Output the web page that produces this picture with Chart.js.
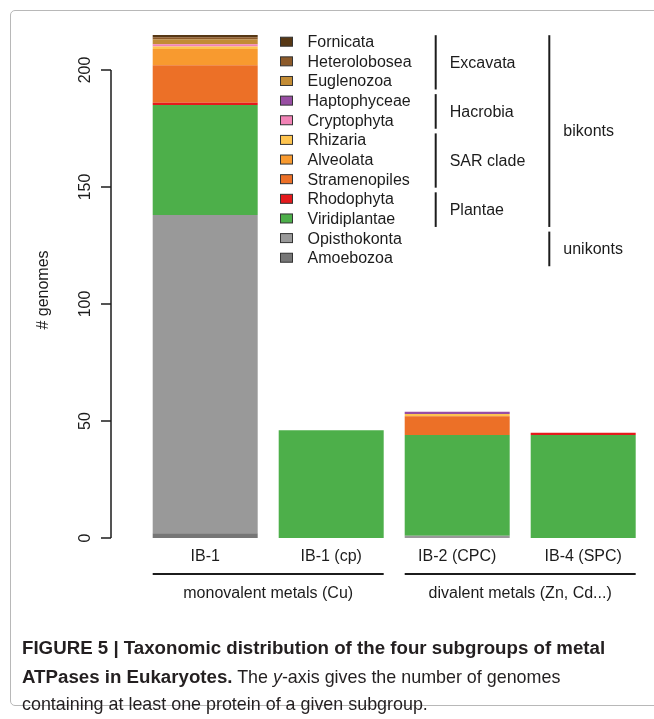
<!DOCTYPE html>
<html>
<head>
<meta charset="utf-8">
<script src="https://cdn.jsdelivr.net/npm/chart.js@4.4.0/dist/chart.umd.min.js"></script>
<style>
  html, body { margin: 0; padding: 0; background: #fff; }
  #wrap { position: relative; width: 654px; height: 719px; overflow: hidden; }
  #frame { position: absolute; left: 10px; top: 10px; width: 670px; height: 694px; border: 1px solid #b8b8b8; border-radius: 5px; }
  #chart { position: absolute; left: 0; top: 0; }
  #caption { position: absolute; left: 22px; top: 634px; font-family: "Liberation Sans", Arial, sans-serif; font-size: 17.9px; line-height: 27.5px; color: #231f20; white-space: nowrap; }
  #caption b { font-size: 18.7px; }
</style>
</head>
<body>
<div id="wrap">
  <div id="frame"></div>
  <canvas id="chart" width="654" height="719"></canvas>
  <div id="caption"><b>FIGURE 5 | Taxonomic distribution of the four subgroups of metal</b><br><b>ATPases in Eukaryotes.</b> The <i>y</i>-axis gives the number of genomes<br>containing at least one protein of a given subgroup.</div>
</div>
<script>
// categories (subgroups) and groups of categories
const categories = ['IB-1', 'IB-1 (cp)', 'IB-2 (CPC)', 'IB-4 (SPC)'];
const metalGroups = ['monovalent metals (Cu)', 'divalent metals (Zn, Cd...)'];
const metalGroupSpans = [[0, 1], [2, 3]];
const yTicks = [0, 50, 100, 150, 200];

// genome counts per taxon, stacked from bottom to top
const amoebozoa     = [2, 0, 0, 0];
const opisthokonta  = [136, 0, 1, 0];
const viridiplantae = [47, 46, 43, 44];
const rhodophyta    = [1, 0, 0, 1];
const stramenopiles = [16, 0, 8, 0];
const alveolata     = [7, 0, 0, 0];
const rhizaria      = [1, 0, 1, 0];
const cryptophyta   = [1, 0, 0, 0];
const haptophyceae  = [0, 0, 1, 0];
const euglenozoa    = [2, 0, 0, 0];
const heterolobosea = [1, 0, 0, 0];
const fornicata     = [1, 0, 0, 0];

const taxa = ['Amoebozoa', 'Opisthokonta', 'Viridiplantae', 'Rhodophyta', 'Stramenopiles',
  'Alveolata', 'Rhizaria', 'Cryptophyta', 'Haptophyceae', 'Euglenozoa', 'Heterolobosea', 'Fornicata'];
const taxaValues = [amoebozoa, opisthokonta, viridiplantae, rhodophyta, stramenopiles,
  alveolata, rhizaria, cryptophyta, haptophyceae, euglenozoa, heterolobosea, fornicata];
const taxaColors = ['#767676', '#999999', '#4daf4a', '#e41a1c', '#ec7027',
  '#f89a2f', '#fec44f', '#f283b6', '#984ea3', '#c38c35', '#8c5a2a', '#573815'];

// clade brackets next to the legend (rows counted from the top of the legend)
const innerClades = ['Excavata', 'Hacrobia', 'SAR clade', 'Plantae'];
const innerRows = [[0, 2], [3, 4], [5, 7], [8, 9]];
const outerClades = ['bikonts', 'unikonts'];
const outerRows = [[0, 9], [10, 11]];

const FONT = '16px "Liberation Sans", Arial, sans-serif';
const INK = '#1c1c1c';

// R-style axes, labels and legend, drawn from the chart's own scales
const decorations = {
    id: 'decorations',
    afterDraw(chart) {
        const ctx = chart.ctx;
        const xs = chart.scales.x;
        const ys = chart.scales.y;
        const halfBar = xs.width / categories.length * 0.8333 / 2;
        ctx.save();
        ctx.fillStyle = INK;
        ctx.strokeStyle = INK;
        ctx.font = FONT;

        // y axis
        const axisX = 111;
        ctx.lineWidth = 1.5;
        ctx.beginPath();
        ctx.moveTo(axisX, ys.getPixelForValue(yTicks[0]));
        ctx.lineTo(axisX, ys.getPixelForValue(yTicks[yTicks.length - 1]));
        yTicks.forEach(t => {
            const y = ys.getPixelForValue(t);
            ctx.moveTo(axisX, y);
            ctx.lineTo(axisX - 10, y);
        });
        ctx.stroke();
        ctx.textAlign = 'center';
        ctx.textBaseline = 'middle';
        yTicks.forEach(t => {
            ctx.save();
            ctx.translate(86, ys.getPixelForValue(t));
            ctx.rotate(-Math.PI / 2);
            ctx.fillText(String(t), 0, 0);
            ctx.restore();
        });
        ctx.save();
        ctx.translate(44, 290);
        ctx.rotate(-Math.PI / 2);
        ctx.fillText('# genomes', 0, 0);
        ctx.restore();

        // category labels and group underlines
        categories.forEach((c, i) => ctx.fillText(c, xs.getPixelForValue(i), 557));
        ctx.lineWidth = 2;
        metalGroups.forEach((g, k) => {
            const x0 = xs.getPixelForValue(metalGroupSpans[k][0]) - halfBar;
            const x1 = xs.getPixelForValue(metalGroupSpans[k][1]) + halfBar;
            ctx.beginPath();
            ctx.moveTo(x0, 574);
            ctx.lineTo(x1, 574);
            ctx.stroke();
            ctx.fillText(g, (x0 + x1) / 2, 594);
        });

        // legend (top row = last stacked dataset)
        const rowY = r => 41.7 + r * 19.64;
        ctx.textAlign = 'left';
        chart.data.datasets.slice().reverse().forEach((ds, r) => {
            const y = rowY(r);
            ctx.fillStyle = ds.backgroundColor;
            ctx.fillRect(280.5, y - 4.5, 12, 9);
            ctx.lineWidth = 1;
            ctx.strokeStyle = '#333';
            ctx.strokeRect(280.5, y - 4.5, 12, 9);
            ctx.fillStyle = INK;
            ctx.fillText(ds.label, 307.5, y + 1);
        });

        // clade brackets
        ctx.strokeStyle = INK;
        ctx.lineWidth = 2;
        const bracket = (names, rows, x) => {
            names.forEach((n, k) => {
                const y0 = rowY(rows[k][0]) - 6.5;
                const y1 = rowY(rows[k][1]) + 8.5;
                ctx.beginPath();
                ctx.moveTo(x, y0);
                ctx.lineTo(x, y1);
                ctx.stroke();
                ctx.fillText(n, x + 14, (y0 + y1) / 2 + 1);
            });
        };
        bracket(innerClades, innerRows, 435.7);
        bracket(outerClades, outerRows, 549.3);
        ctx.restore();
    }
};

new Chart(document.getElementById('chart'), {
    type: 'bar',
    data: {
        labels: categories,
        datasets: taxa.map((t, i) => ({
            label: t,
            data: taxaValues[i],
            backgroundColor: taxaColors[i],
            borderWidth: 0,
            barPercentage: 0.8333,
            categoryPercentage: 1.0
        }))
    },
    options: {
        responsive: false,
        animation: false,
        devicePixelRatio: 1,
        layout: { padding: { left: 142.2, right: 7.8, top: 23.2, bottom: 181 } },
        plugins: { legend: { display: false }, tooltip: { enabled: false } },
        scales: {
            x: { stacked: true, display: false },
            y: { stacked: true, display: false, min: 0, max: 220 }
        }
    },
    plugins: [decorations]
});
</script>
</body>
</html>
